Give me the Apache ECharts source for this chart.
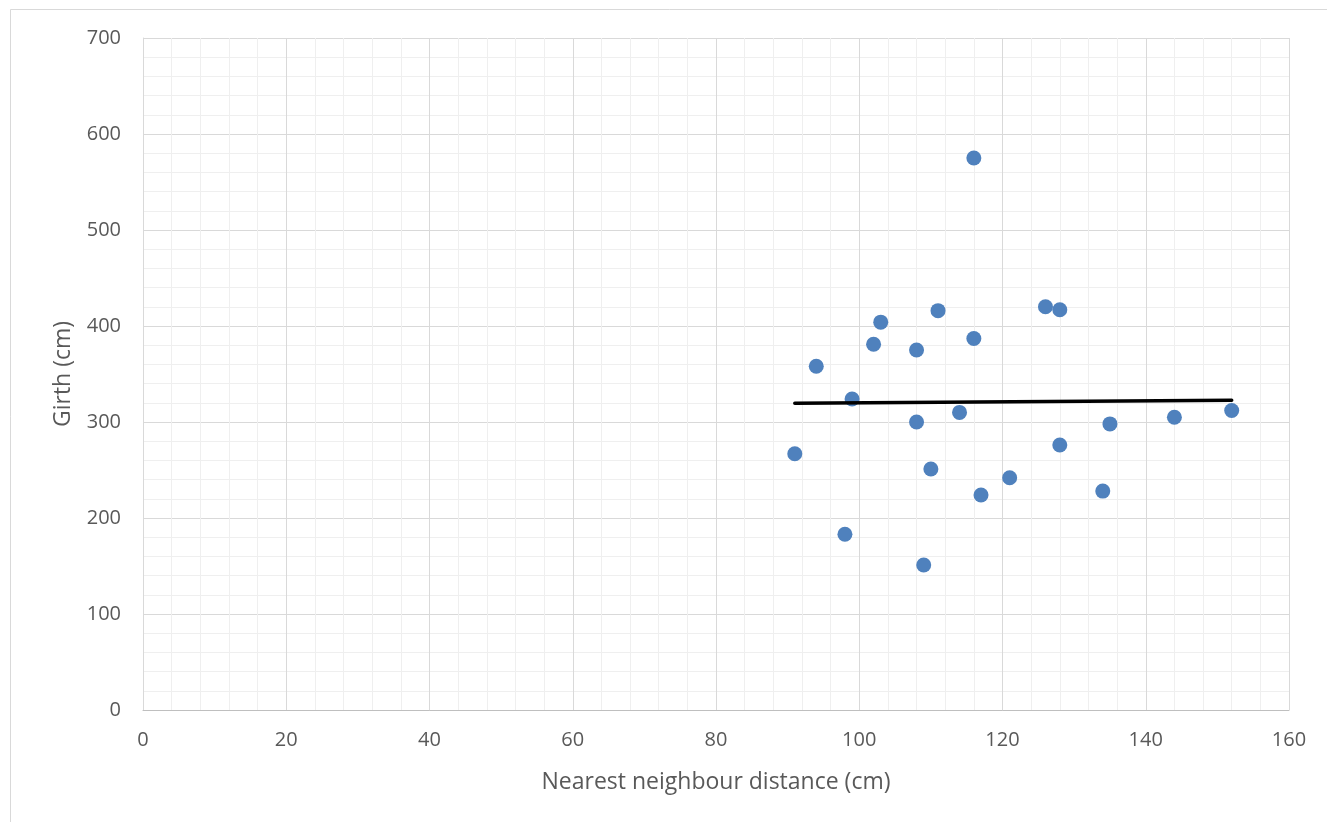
<!DOCTYPE html>
<html>
<head>
<meta charset="utf-8">
<script src="https://cdn.jsdelivr.net/npm/echarts@6/dist/echarts.min.js"></script>
<style>
html,body{margin:0;padding:0;background:#fff;}
#chart{width:1327px;height:822px;}
</style>
</head>
<body>
<div id="chart"></div>
<script>
// Nearest neighbour distance (cm)
var distance = [116, 126, 128, 111, 103, 116, 102, 108, 94, 99, 108, 114, 91, 110, 121, 117, 98, 109, 128, 152, 144, 135, 134];
// Girth (cm)
var girth    = [575, 420, 417, 416, 404, 387, 381, 375, 358, 324, 300, 310, 267, 251, 242, 224, 183, 151, 276, 312, 305, 298, 228];
// Linear trendline endpoints
var trendX = [91, 152];
var trendY = [319.5, 322.6];

var xTitle = 'Nearest neighbour distance (cm)';
var yTitle = 'Girth (cm)';

var points = distance.map(function (d, i) { return [d, girth[i]]; });
var trend = trendX.map(function (d, i) { return [d, trendY[i]]; });

var chart = echarts.init(document.getElementById('chart'), null, {renderer: 'canvas'});
var labelFont = {color: '#595959', fontSize: 20, fontFamily: 'Open Sans'};
chart.setOption({
  animation: false,
  backgroundColor: '#fff',
  graphic: [{
    type: 'rect',
    shape: {x: 10.5, y: 9.5, width: 1340, height: 840},
    style: {fill: 'none', stroke: '#d9d9d9', lineWidth: 1},
    silent: true
  }],
  grid: {left: 143, top: 38, right: 38, bottom: 112, containLabel: false},
  xAxis: {
    type: 'value', min: 0, max: 160, interval: 20,
    name: xTitle, nameLocation: 'middle', nameGap: 61,
    nameTextStyle: {color: '#595959', fontSize: 23, fontFamily: 'Open Sans'},
    axisLine: {show: true, lineStyle: {color: '#bfbfbf', width: 1}},
    axisTick: {show: false},
    axisLabel: Object.assign({margin: 20}, labelFont),
    splitLine: {show: true, lineStyle: {color: '#d9d9d9', width: 1}},
    minorTick: {show: false, splitNumber: 5},
    minorSplitLine: {show: true, lineStyle: {color: '#efefef', width: 1}}
  },
  yAxis: {
    type: 'value', min: 0, max: 700, interval: 100,
    name: yTitle, nameLocation: 'middle', nameGap: 68, nameRotate: 90,
    nameTextStyle: {color: '#595959', fontSize: 23, fontFamily: 'Open Sans'},
    axisLine: {show: true, lineStyle: {color: '#d9d9d9', width: 1}},
    axisTick: {show: false},
    axisLabel: Object.assign({margin: 22}, labelFont),
    splitLine: {show: true, lineStyle: {color: '#d9d9d9', width: 1}},
    minorTick: {show: false, splitNumber: 5},
    minorSplitLine: {show: true, lineStyle: {color: '#efefef', width: 1}}
  },
  series: [
    {
      type: 'scatter', data: points, symbol: 'circle', symbolSize: 15,
      itemStyle: {color: '#4F81BD', opacity: 1}, z: 3
    },
    {
      type: 'line', data: trend, symbol: 'none', z: 4,
      lineStyle: {color: '#000000', width: 3.5, cap: 'round'}
    }
  ]
});
</script>
</body>
</html>
